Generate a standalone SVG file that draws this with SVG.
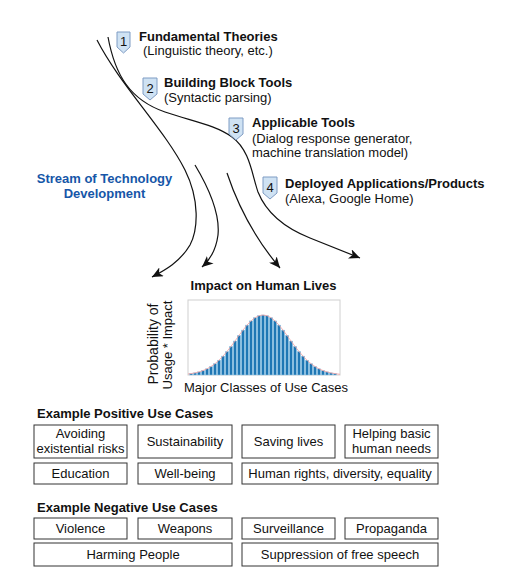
<svg xmlns="http://www.w3.org/2000/svg" width="508" height="582" viewBox="0 0 508 582">
<style>
text{font-family:"Liberation Sans",Arial,sans-serif;font-size:13px;fill:#111}
.b{font-weight:bold}
.c{text-anchor:middle}
.blue{fill:#1656a8;font-weight:bold}
.badge{fill:#cfe2f3;stroke:#7f9cc4;stroke-width:1}
.box{fill:#fff;stroke:#333;stroke-width:1}
.flow{fill:none;stroke:#111;stroke-width:1.2}
.bar{fill:#1f77b4;stroke:#9fd0ee;stroke-width:0.5}
</style>
<defs>
<marker id="arr" markerUnits="userSpaceOnUse" markerWidth="12" markerHeight="10" refX="11" refY="5" orient="auto">
<path d="M0,0 L11,5 L0,10 L3,5 Z" fill="#111"/>
</marker>
</defs>
<rect width="508" height="582" fill="#fff"/>
<g id="connectors">
<path class="flow" marker-end="url(#arr)" d="M97,40 C120,85 165,130 185,170 C200,200 198,230 190,245 C180,262 165,270 152,277"/>
<path class="flow" marker-end="url(#arr)" d="M108,37 C115,75 130,100 165,112 C195,122 215,125 232,137 C250,150 252,175 258,192 C266,212 285,228 310,238 C330,246 345,252 360,258"/>
<path class="flow" marker-end="url(#arr)" d="M195,165 C210,190 220,215 218,235 C216,250 210,260 202,267"/>
<path class="flow" marker-end="url(#arr)" d="M227,173 C236,200 252,235 280,268"/>
</g>
<g id="stage1">
<path class="badge" d="M117,32 H130 V47 L123.5,53 L117,47 Z"/>
<text class="c" x="123.5" y="46">1</text>
<text class="b" x="139" y="41">Fundamental Theories</text>
<text x="143" y="55">(Linguistic theory, etc.)</text>
</g>
<g id="stage2">
<path class="badge" d="M143,78 H157 V94 L150,100 L143,94 Z"/>
<text class="c" x="150" y="93">2</text>
<text class="b" x="164" y="87">Building Block Tools</text>
<text x="164" y="102">(Syntactic parsing)</text>
</g>
<g id="stage3">
<path class="badge" d="M229,118 H243 V134 L236,140 L229,134 Z"/>
<text class="c" x="236" y="133">3</text>
<text class="b" x="252" y="127">Applicable Tools</text>
<text x="252" y="143">(Dialog response generator,</text>
<text x="252" y="157">machine translation model)</text>
</g>
<g id="stage4">
<path class="badge" d="M263,177 H277 V193 L270,199 L263,193 Z"/>
<text class="c" x="270" y="192">4</text>
<text class="b" x="285" y="188">Deployed Applications/Products</text>
<text x="285" y="203">(Alexa, Google Home)</text>
</g>
<g id="stream-label">
<text class="blue c" x="104.5" y="183">Stream of Technology</text>
<text class="blue c" x="104.5" y="198">Development</text>
</g>
<g id="impact-chart">
<text class="b c" x="263.5" y="290">Impact on Human Lives</text>
<rect x="188" y="300" width="152" height="75" fill="#fff" stroke="#d0d0d0" stroke-width="1"/>
<g>
<rect class="bar" x="189.4" y="373.6" width="3.2" height="1.4"/>
<rect class="bar" x="193.4" y="372.9" width="3.2" height="2.1"/>
<rect class="bar" x="197.4" y="371.9" width="3.2" height="3.1"/>
<rect class="bar" x="201.4" y="370.6" width="3.2" height="4.4"/>
<rect class="bar" x="205.4" y="368.8" width="3.2" height="6.2"/>
<rect class="bar" x="209.4" y="366.5" width="3.2" height="8.5"/>
<rect class="bar" x="213.4" y="363.7" width="3.2" height="11.3"/>
<rect class="bar" x="217.4" y="360.2" width="3.2" height="14.8"/>
<rect class="bar" x="221.4" y="356.1" width="3.2" height="18.9"/>
<rect class="bar" x="225.4" y="351.5" width="3.2" height="23.5"/>
<rect class="bar" x="229.4" y="346.4" width="3.2" height="28.6"/>
<rect class="bar" x="233.4" y="341.0" width="3.2" height="34.0"/>
<rect class="bar" x="237.4" y="335.4" width="3.2" height="39.6"/>
<rect class="bar" x="241.4" y="330.1" width="3.2" height="44.9"/>
<rect class="bar" x="245.4" y="325.1" width="3.2" height="49.9"/>
<rect class="bar" x="249.4" y="320.9" width="3.2" height="54.1"/>
<rect class="bar" x="253.4" y="317.7" width="3.2" height="57.3"/>
<rect class="bar" x="257.4" y="315.7" width="3.2" height="59.3"/>
<rect class="bar" x="261.4" y="315.0" width="3.2" height="60.0"/>
<rect class="bar" x="265.4" y="315.7" width="3.2" height="59.3"/>
<rect class="bar" x="269.4" y="317.7" width="3.2" height="57.3"/>
<rect class="bar" x="273.4" y="320.9" width="3.2" height="54.1"/>
<rect class="bar" x="277.4" y="325.1" width="3.2" height="49.9"/>
<rect class="bar" x="281.4" y="330.1" width="3.2" height="44.9"/>
<rect class="bar" x="285.4" y="335.4" width="3.2" height="39.6"/>
<rect class="bar" x="289.4" y="341.0" width="3.2" height="34.0"/>
<rect class="bar" x="293.4" y="346.4" width="3.2" height="28.6"/>
<rect class="bar" x="297.4" y="351.5" width="3.2" height="23.5"/>
<rect class="bar" x="301.4" y="356.1" width="3.2" height="18.9"/>
<rect class="bar" x="305.4" y="360.2" width="3.2" height="14.8"/>
<rect class="bar" x="309.4" y="363.7" width="3.2" height="11.3"/>
<rect class="bar" x="313.4" y="366.5" width="3.2" height="8.5"/>
<rect class="bar" x="317.4" y="368.8" width="3.2" height="6.2"/>
<rect class="bar" x="321.4" y="370.6" width="3.2" height="4.4"/>
<rect class="bar" x="325.4" y="371.9" width="3.2" height="3.1"/>
<rect class="bar" x="329.4" y="372.9" width="3.2" height="2.1"/>
<rect class="bar" x="333.4" y="373.6" width="3.2" height="1.4"/>
</g>
<polyline fill="none" stroke="#f2a0a0" stroke-width="0.8" points="188,374 191,373.6 195,372.9 199,371.9 203,370.6 207,368.8 211,366.5 215,363.7 219,360.2 223,356.1 227,351.5 231,346.4 235,341 239,335.4 243,330.1 247,325.1 251,320.9 255,317.7 259,315.7 263,315 267,315.7 271,317.7 275,320.9 279,325.1 283,330.1 287,335.4 291,341 295,346.4 299,351.5 303,356.1 307,360.2 311,363.7 315,366.5 319,368.8 323,370.6 327,371.9 331,372.9 335,373.6 340,374.3"/>
<text class="c" style="font-size:14px" transform="translate(158,344) rotate(-90)" x="0" y="0">Probability of</text>
<text class="c" transform="translate(172,345) rotate(-90)" x="0" y="0">Usage * Impact</text>
<text class="c" x="266" y="392">Major Classes of Use Cases</text>
</g>
<g id="positive">
<text class="b" x="37" y="418">Example Positive Use Cases</text>
<g id="pos-avoid"><rect class="box" x="34" y="425" width="93" height="33"/><text class="c" x="80.5" y="438">Avoiding</text><text class="c" x="80.5" y="453">existential risks</text></g>
<g id="pos-sust"><rect class="box" x="138" y="425" width="94" height="33"/><text class="c" x="185" y="446">Sustainability</text></g>
<g id="pos-save"><rect class="box" x="242" y="425" width="93" height="33"/><text class="c" x="288.5" y="446">Saving lives</text></g>
<g id="pos-help"><rect class="box" x="345" y="425" width="93" height="33"/><text class="c" x="391.5" y="438">Helping basic</text><text class="c" x="391.5" y="453">human needs</text></g>
<g id="pos-edu"><rect class="box" x="34" y="463" width="93" height="21"/><text class="c" x="80.5" y="478">Education</text></g>
<g id="pos-well"><rect class="box" x="138" y="463" width="94" height="21"/><text class="c" x="185" y="478">Well-being</text></g>
<g id="pos-rights"><rect class="box" x="242" y="463" width="196" height="21"/><text class="c" x="340" y="478">Human rights, diversity, equality</text></g>
</g>
<g id="negative">
<text class="b" x="37" y="512">Example Negative Use Cases</text>
<g id="neg-viol"><rect class="box" x="34" y="518" width="93" height="21"/><text class="c" x="80.5" y="533">Violence</text></g>
<g id="neg-weap"><rect class="box" x="138" y="518" width="94" height="21"/><text class="c" x="185" y="533">Weapons</text></g>
<g id="neg-surv"><rect class="box" x="242" y="518" width="93" height="21"/><text class="c" x="288.5" y="533">Surveillance</text></g>
<g id="neg-prop"><rect class="box" x="345" y="518" width="93" height="21"/><text class="c" x="391.5" y="533">Propaganda</text></g>
<g id="neg-harm"><rect class="box" x="34" y="543" width="198" height="23"/><text class="c" x="133" y="559">Harming People</text></g>
<g id="neg-supp"><rect class="box" x="242" y="543" width="196" height="23"/><text class="c" x="340" y="559">Suppression of free speech</text></g>
</g>
</svg>
